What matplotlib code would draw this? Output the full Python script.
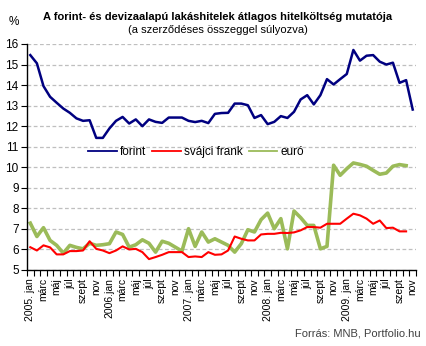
#!/usr/bin/env python3

import matplotlib
matplotlib.use('Agg')
import matplotlib.pyplot as plt
import numpy as np

plt.rcParams['font.family'] = ['Liberation Sans', 'DejaVu Sans']

# monthly data, 2005 jan - 2009 nov
forint = [15.46, 15.06, 13.95, 13.43, 13.14, 12.86, 12.65, 12.38, 12.26, 12.29,
          11.43, 11.43, 11.89, 12.26, 12.45, 12.13, 12.33, 12.0, 12.33, 12.21,
          12.16, 12.42, 12.42, 12.42, 12.26, 12.2, 12.26, 12.15, 12.6, 12.64,
          12.65, 13.1, 13.1, 13.02, 12.4, 12.54, 12.1, 12.21, 12.49, 12.4,
          12.7, 13.3, 13.51, 13.06, 13.51, 14.29, 14.03, 14.29, 14.54, 15.71,
          15.19, 15.43, 15.46, 15.14, 15.0, 15.09, 14.11, 14.24, 12.81]
frank = [6.11, 5.95, 6.2, 6.1, 5.76, 5.76, 5.92, 5.92, 5.95, 6.4,
         6.03, 5.95, 5.82, 5.95, 6.15, 6.0, 6.03, 5.87, 5.53, 5.63,
         5.74, 5.87, 5.87, 5.87, 5.63, 5.66, 5.63, 5.87, 5.74, 5.76,
         5.95, 6.63, 6.52, 6.44, 6.44, 6.73, 6.76, 6.76, 6.81, 6.8,
         6.83, 6.93, 7.09, 7.09, 7.06, 7.25, 7.25, 7.25, 7.5, 7.74,
         7.66, 7.5, 7.25, 7.41, 7.04, 7.06, 6.88, 6.88]
euro = [7.28, 6.63, 7.06, 6.44, 6.2, 5.82, 6.2, 6.1, 6.03, 6.3,
        6.2, 6.23, 6.28, 6.85, 6.73, 6.11, 6.23, 6.47, 6.3, 5.87,
        6.4, 6.3, 6.11, 5.92, 7.01, 6.15, 6.85, 6.36, 6.52, 6.36,
        6.2, 5.87, 6.28, 6.96, 6.85, 7.45, 7.77, 7.01, 7.5, 6.03,
        7.87, 7.55, 7.17, 7.17, 6.03, 6.15, 10.1, 9.61, 9.93, 10.21,
        10.14, 10.05, 9.85, 9.66, 9.72, 10.05, 10.13, 10.08]

months = ['jan', 'febr', 'márc', 'ápr', 'máj', 'jún', 'júl', 'aug',
          'szept', 'okt', 'nov', 'dec']
years = ['2005. ', '2006.', '2007. ', '2008. ', '2009. ']
labels = []
for y in years:
    for m in months:
        labels.append(y + m if m == 'jan' else m)
labels = labels[:len(forint)]

fig = plt.figure(figsize=(4.27, 3.46), dpi=100)
ax = fig.add_axes([27 / 427, 1 - 270 / 346, 389 / 427, 226 / 346])

x = np.arange(len(forint))
ax.plot(x, forint, color='#000080', lw=1.8, label='forint', zorder=3)
ax.plot(x[:len(frank)], frank, color='#ff0000', lw=1.5, label='svájci frank', zorder=3)
ax.plot(x[:len(euro)], euro, color='#9bbb59', lw=2.6, label='euró', zorder=2)

ax.set_xlim(-0.5, len(forint) - 0.5)
ax.set_ylim(5, 16)
ax.set_yticks(range(5, 17))
ax.yaxis.grid(True, color='#bfbfbf', linestyle=(0, (3, 2)), lw=0.9)
ax.set_axisbelow(True)
ax.tick_params(axis='y', labelsize=8.5, length=4, width=0.8, pad=2)

ax.set_xticks(x[::2])
ax.set_xticklabels(labels[::2], rotation=90, fontsize=7.5)
ax.set_xticks(np.arange(-0.5, len(forint)), minor=True)
ax.tick_params(axis='x', which='major', length=0, pad=6)
ax.tick_params(axis='x', which='minor', length=4, width=0.8)

for s in ['top', 'right']:
    ax.spines[s].set_visible(False)
for s in ['left', 'bottom']:
    ax.spines[s].set_linewidth(1.0)

fig.text(0.51, 0.95, 'A forint- és devizaalapú lakáshitelek átlagos hitelköltség mutatója',
         ha='center', va='center', fontsize=8, fontweight='bold')
fig.text(0.51, 0.912, '(a szerződéses összeggel súlyozva)', ha='center', va='center', fontsize=8)
fig.text(0.02, 0.935, '%', ha='left', va='center', fontsize=8.5)
fig.text(0.985, 0.035, 'Forrás: MNB, Portfolio.hu', ha='right', va='center',
         fontsize=8, color='#404040')

leg = fig.legend(loc='center', bbox_to_anchor=(0.46, 0.56), ncol=3, frameon=False,
                 fontsize=8.5, handlelength=2.4, handletextpad=0.3, columnspacing=0.5)
for h in leg.get_lines():
    h.set_linewidth(1.3)

fig.savefig('out.png', dpi=100)
